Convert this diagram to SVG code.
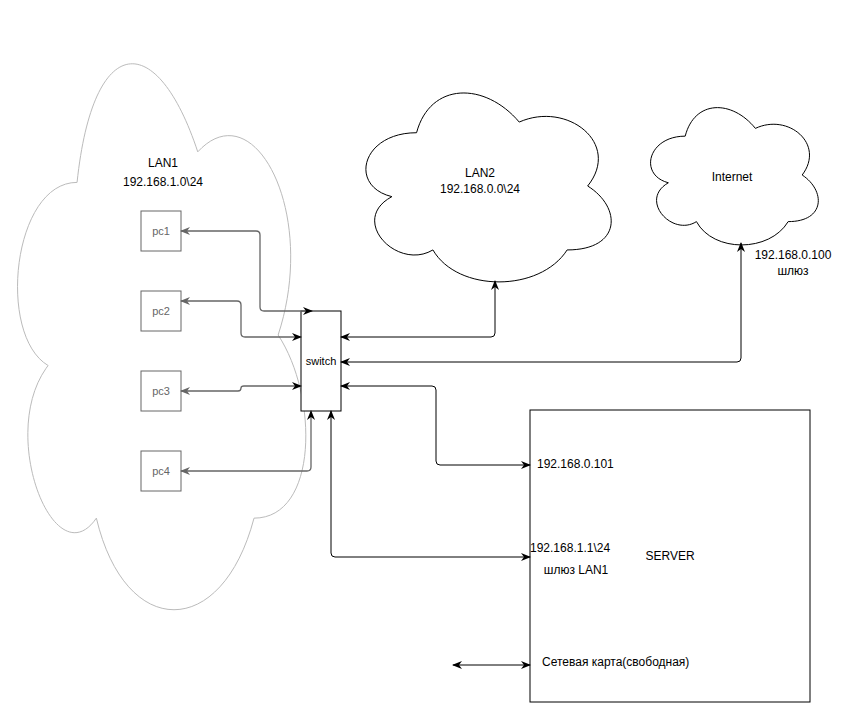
<svg xmlns="http://www.w3.org/2000/svg" width="863" height="704" viewBox="0 0 863 704">
<defs>
<marker id="ab" viewBox="0 0 10 10" refX="9" refY="5" markerWidth="10" markerHeight="10" markerUnits="userSpaceOnUse" orient="auto-start-reverse"><path d="M0,1 L10,5 L0,9 L3,5 Z" fill="#000"/></marker>
<marker id="ag" viewBox="0 0 10 10" refX="9" refY="5" markerWidth="10" markerHeight="10" markerUnits="userSpaceOnUse" orient="auto-start-reverse"><path d="M0,1 L10,5 L0,9 L3,5 Z" fill="#666"/></marker>
</defs>
<style>
text{font-family:"Liberation Sans",Arial,sans-serif;font-size:12px;text-anchor:middle}
.box{fill:#fff;stroke:#000;stroke-width:1}
.pc{fill:#fff;stroke:#666}
.pct{fill:#666;font-size:11px}
.cl{fill:#fff;stroke:#000;stroke-width:1;vector-effect:non-scaling-stroke}
.g{fill:none;stroke:#666;stroke-width:1.3;marker-start:url(#ag);marker-end:url(#ab)}
.k{fill:none;stroke:#000;stroke-width:1;marker-start:url(#ab);marker-end:url(#ab)}
</style>
<g id="lan1"><path class="cl" style="stroke:#bbb" transform="translate(157.5,335) scale(1.17,1.11) translate(-157.5,-335)" d="M88.75,197.5 C33.75,197.5 20,335 64,362.5 C20,423 69.5,555 105.25,500 C130,610 212.5,610 240,500 C295,500 295,390 260.6,335 C295,225 240,115 191.9,170 C157.5,60 102.5,60 88.75,197.5 Z"/>
<text x="163" y="167">LAN1</text><text x="163" y="186">192.168.1.0\24</text></g>
<g id="lan2"><path class="cl" transform="translate(485,186) scale(1.17,1.11) translate(-485,-186)" d="M426.5,138 C379.7,138 368,186 405.4,195.6 C368,216.7 410.1,262.8 440.5,243.6 C461.6,282 531.8,282 555.2,243.6 C602,243.6 602,205.2 572.75,186 C602,147.6 555.2,109.2 514.25,128.4 C485,92 438.2,92 426.5,138 Z"/>
<text x="480" y="177">LAN2</text><text x="480" y="193">192.168.0.0\24</text></g>
<g id="internet"><path class="cl" transform="translate(732,175) scale(1.17,1.11) translate(-732,-175)" d="M692,140 C660,140 652,175 677.6,182 C652,197.4 680.8,231 701.6,217 C716,245 764,245 780,217 C812,217 812,189 792,175 C812,147 780,119 752,133 C732,107 700,107 692,140 Z"/>
<text x="732" y="181">Internet</text></g>
<g id="server"><rect class="box" x="530" y="410" width="280" height="292"/>
<text x="670" y="560">SERVER</text></g>
<g id="pc1"><rect class="pc" x="141" y="211" width="40" height="40"/><text class="pct" x="161" y="235">pc1</text></g>
<g id="pc2"><rect class="pc" x="141" y="291" width="40" height="40"/><text class="pct" x="161" y="315">pc2</text></g>
<g id="pc3"><rect class="pc" x="141" y="371" width="40" height="40"/><text class="pct" x="161" y="395">pc3</text></g>
<g id="pc4"><rect class="pc" x="141" y="451" width="40" height="40"/><text class="pct" x="161" y="475">pc4</text></g>
<g id="switch"><rect class="box" x="301" y="311" width="40" height="100"/><text x="321" y="365" style="font-size:11px">switch</text></g>
<g id="connectors">
<path class="g" d="M181,231 H256 Q260,231 260,235 V307 Q260,311 264,311 H312"/>
<path class="g" d="M181,301 H237 Q241,301 241,305 V333 Q241,337 245,337 H301"/>
<path class="g" d="M181,391 H238 Q241,391 241,388 Q241,386 244,386 H301"/>
<path class="g" d="M181,471 H307 Q311,471 311,467 V411"/>
<path class="k" d="M341,337 H491 Q495,337 495,333 V281"/>
<path class="k" d="M341,362 H737 Q741,362 741,358 V243"/>
<path class="k" d="M341,386 H432 Q436,386 436,390 V461 Q436,465 440,465 H530"/>
<path class="k" d="M331,411 V553 Q331,557 335,557 H530"/>
<path class="k" d="M453,665 H530"/>
</g>
<text x="793" y="259">192.168.0.100</text><text x="793" y="275">шлюз</text>
<text x="537" y="468" style="text-anchor:start">192.168.0.101</text>
<text x="530" y="552" style="text-anchor:start">192.168.1.1\24</text>
<text x="576" y="574">шлюз LAN1</text>
<text x="542" y="666" style="text-anchor:start">Сетевая карта(свободная)</text>
</svg>
